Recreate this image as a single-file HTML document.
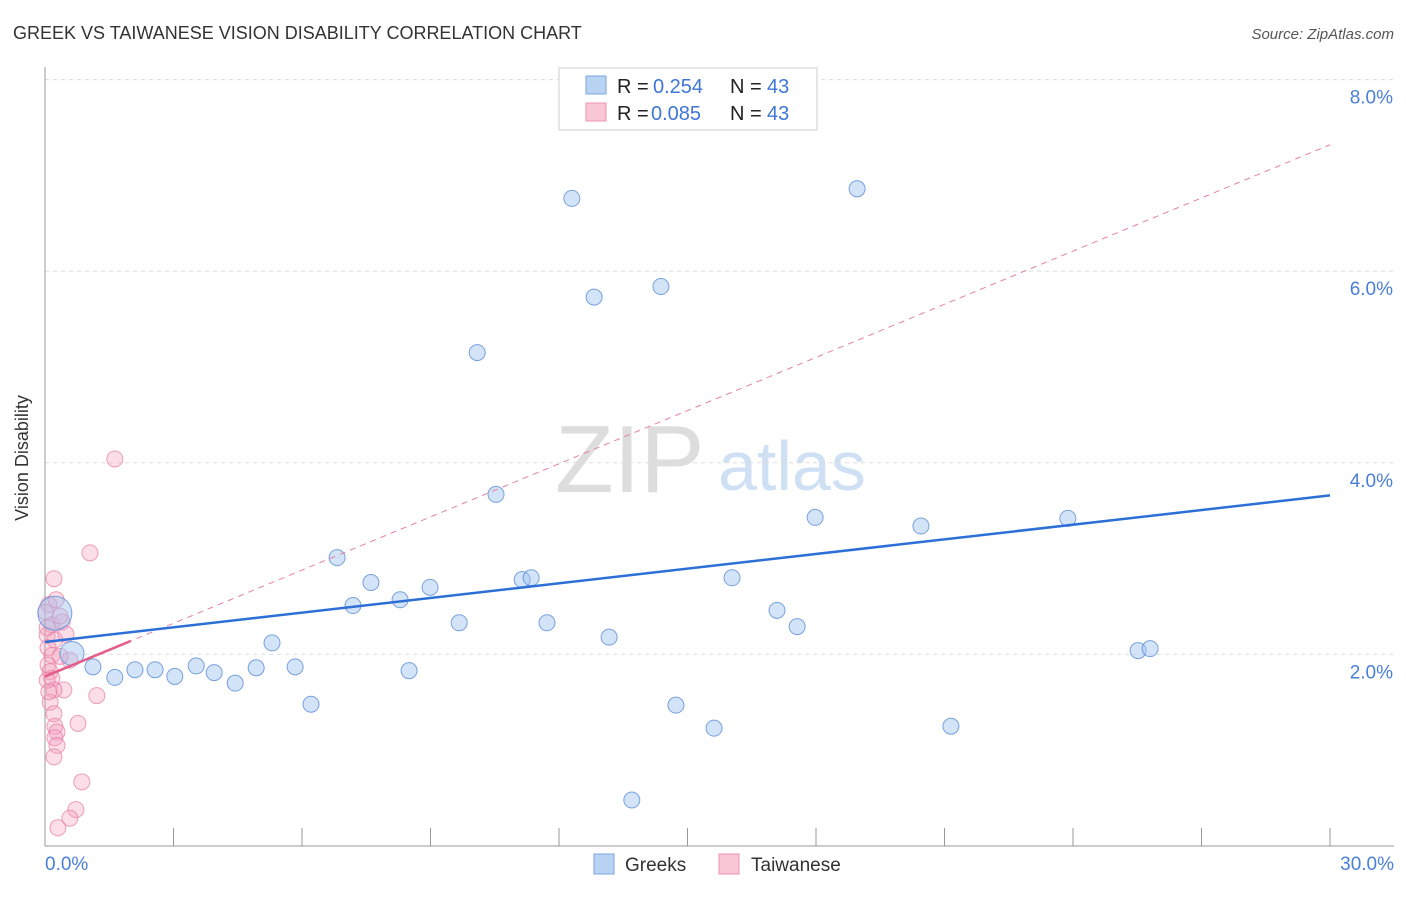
<!DOCTYPE html>
<html><head><meta charset="utf-8"><style>
body{margin:0;background:#fff;font-family:"Liberation Sans",sans-serif}
svg text{font-family:"Liberation Sans",sans-serif}
</style></head><body>
<svg id="c" width="1406" height="892">
<text x="13" y="39" font-size="18" fill="#333">GREEK VS TAIWANESE VISION DISABILITY CORRELATION CHART</text>
<text x="1394" y="39" font-size="15" fill="#555" font-style="italic" text-anchor="end">Source: ZipAtlas.com</text>
<text x="25" y="455" font-size="18" fill="#333" transform="rotate(-90 28 455)" text-anchor="middle">Vision Disability</text>
<text x="555" y="492" font-size="96" fill="#ddd" font-family="Liberation Serif">ZIP</text>
<text x="718" y="490" font-size="70" fill="#cfe0f5">atlas</text>
<g id="grid"></g><g id="pts"></g><g id="lines"></g>
<g>
<rect x="559" y="68" width="258" height="62" fill="#fff" stroke="#ccc"/>
<rect x="586" y="76" width="20" height="18" fill="#b9d3f3" stroke="#7aa6e0"/>
<rect x="586" y="103" width="20" height="18" fill="#f9c6d6" stroke="#ee93b0"/>
<text x="617" y="93" font-size="20" fill="#222">R =</text>
<text x="653" y="93" font-size="20" fill="#3f77d6">0.254</text>
<text x="730" y="93" font-size="20" fill="#222">N =</text>
<text x="767" y="93" font-size="20" fill="#3f77d6">43</text>
<text x="617" y="120" font-size="20" fill="#222">R =</text>
<text x="651" y="120" font-size="20" fill="#3f77d6">0.085</text>
<text x="730" y="120" font-size="20" fill="#222">N =</text>
<text x="767" y="120" font-size="20" fill="#3f77d6">43</text>
</g>
<g>
<rect x="594" y="854" width="20" height="20" fill="#b9d3f3" stroke="#7aa6e0"/>
<text x="625" y="871" font-size="19" fill="#333">Greeks</text>
<rect x="719" y="854" width="20" height="20" fill="#f9c6d6" stroke="#ee93b0"/>
<text x="751" y="871" font-size="19" fill="#333">Taiwanese</text>
</g>
</svg>
<script>
const blueX=[0.23,0.63,1.12,1.63,2.10,2.57,3.03,3.53,3.95,4.44,4.93,5.30,5.84,6.21,6.82,7.19,7.61,8.29,8.50,8.99,9.67,10.09,10.53,11.14,11.35,11.72,12.30,12.82,13.17,13.70,14.38,14.73,15.62,16.04,17.09,17.56,17.98,18.96,20.45,21.15,23.88,25.52,25.80];
const blueY=[2.43,2.01,1.87,1.76,1.84,1.84,1.77,1.88,1.81,1.70,1.86,2.12,1.87,1.48,3.01,2.51,2.75,2.57,1.83,2.70,2.33,5.15,3.67,2.78,2.80,2.33,6.76,5.73,2.18,0.48,5.84,1.47,1.23,2.80,2.46,2.29,3.43,6.86,3.34,1.25,3.42,2.04,2.06];
const pinkX=[1.63,1.05,0.21,0.09,0.16,0.40,0.05,0.23,0.07,0.16,0.58,0.07,0.12,0.16,0.44,0.21,1.21,0.12,0.21,0.77,0.23,0.28,0.23,0.28,0.21,0.86,0.72,0.58,0.30,0.26,0.05,0.35,0.05,0.09,0.35,0.02,0.49];
const pinkY=[4.04,3.06,2.79,2.52,2.31,2.34,2.20,2.15,2.07,1.99,1.94,1.89,1.82,1.75,1.63,1.63,1.57,1.50,1.38,1.28,1.25,1.19,1.13,1.05,0.93,0.67,0.38,0.29,0.19,2.57,2.28,2.40,1.73,1.61,1.98,2.44,2.21];
const yTicks=[2,4,6,8];
const blueTrend=[2.13,3.66];
const pinkTrend=[1.77,7.32];
const pinkSolidEnd=2.0;
const NS="http://www.w3.org/2000/svg";
const X=v=>45+v/30*1285, Y=v=>846-v*95.8;
function mk(t,a,p){const e=document.createElementNS(NS,t);for(const k in a)e.setAttribute(k,a[k]);p.appendChild(e);return e;}
const g=document.getElementById('grid');
yTicks.forEach(t=>{
 const l=mk('line',{x1:45,x2:1394,y1:Y(t),y2:Y(t),stroke:'#ddd','stroke-dasharray':'4,4'},g);
 
 
 const tx=mk('text',{x:1393,y:Y(t)+24,'font-size':19,fill:'#4a7fd6','text-anchor':'end'},g);
 tx.textContent=t.toFixed(1)+'%';
 
 
});
const ax=mk('line',{x1:45,x2:45,y1:67,y2:846,stroke:'#999'},g);


const bx=mk('line',{x1:45,x2:1394,y1:846,y2:846,stroke:'#999'},g);


for(let i=1;i<=10;i++){const t=mk('line',{x1:X(i*3),x2:X(i*3),y1:828,y2:846,stroke:'#999'},g);
 
 }
[[0,'0.0%',45,'start'],[30,'30.0%',1394,'end']].forEach(a=>{const t=mk('text',{x:a[2],y:870,'font-size':19,fill:'#4a7fd6','text-anchor':a[3]},g);t.textContent=a[1];
 
 });
const p=document.getElementById('pts');
pinkX.forEach((x,i)=>{const c=mk('circle',{cx:X(x),cy:Y(pinkY[i]),r:8,fill:'rgba(244,160,188,0.35)',stroke:'rgba(232,120,160,0.7)'},p);
 
 });
blueX.forEach((x,i)=>{const c=mk('circle',{cx:X(x),cy:Y(blueY[i]),r:i==0?17:(i==1?12:8),fill:'rgba(160,196,240,0.45)',stroke:'rgba(90,140,215,0.8)'},p);
 
 });
const L=document.getElementById('lines');
const pd=mk('line',{x1:X(0),y1:Y(pinkTrend[0]),x2:X(30),y2:Y(pinkTrend[1]),stroke:'#e8809f','stroke-dasharray':'6,5','stroke-width':1},L);


const ps=mk('line',{x1:X(0),y1:Y(pinkTrend[0]),x2:X(pinkSolidEnd),y2:Y(pinkTrend[0]+(pinkTrend[1]-pinkTrend[0])*pinkSolidEnd/30),stroke:'#e45c88','stroke-width':2.5},L);


const bl=mk('line',{x1:X(0),y1:Y(blueTrend[0]),x2:X(30),y2:Y(blueTrend[1]),stroke:'#2c6fd6','stroke-width':2.5},L);


</script>
</body></html>
